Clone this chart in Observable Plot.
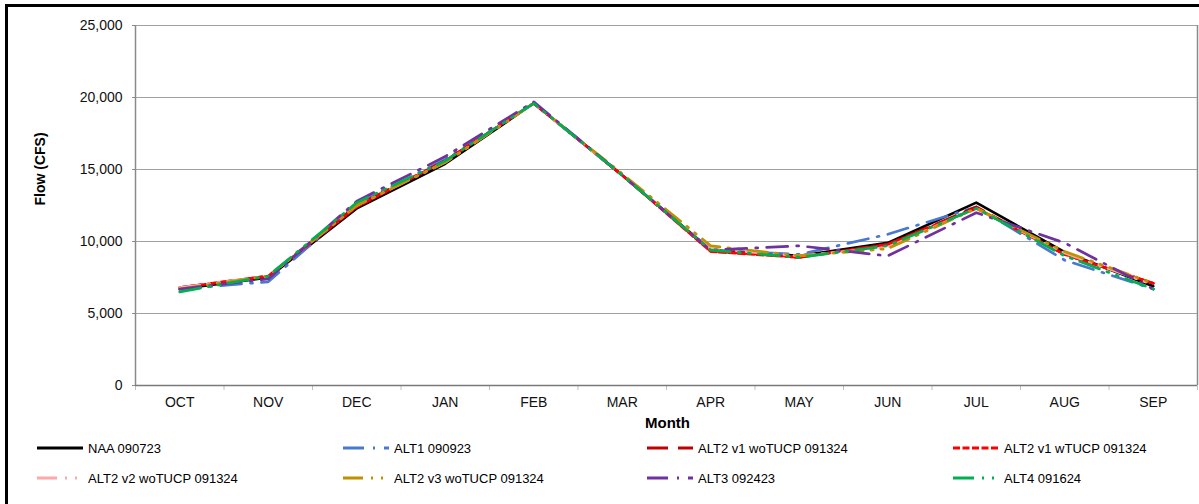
<!DOCTYPE html>
<html><head><meta charset="utf-8">
<script src="https://cdn.jsdelivr.net/npm/d3@7"></script>
<script src="https://cdn.jsdelivr.net/npm/@observablehq/plot@0.6"></script>
<style>
html,body{margin:0;padding:0;background:#fff;overflow:hidden;}
#wrap{position:relative;width:1199px;height:504px;font-family:"Liberation Sans",Arial,sans-serif;}
#frame{position:absolute;left:5px;top:4px;width:1220px;height:530px;border:3px solid #000;box-sizing:border-box;pointer-events:none;}
#chart{position:absolute;left:0;top:0;}
#legend{position:absolute;left:0;top:0;width:1199px;height:504px;}
.item{position:absolute;height:16px;display:flex;align-items:center;font-size:13px;color:#000;white-space:nowrap;}
.item svg{margin-right:5px;}
</style></head><body>
<div id="wrap"><div id="chart"></div><div id="legend"></div><div id="frame"></div></div>
<script>
// ---- data ----
const months = ["OCT","NOV","DEC","JAN","FEB","MAR","APR","MAY","JUN","JUL","AUG","SEP"];
const yTicks = [0, 5000, 10000, 15000, 20000, 25000];
const seriesNames = ["NAA 090723","ALT1 090923","ALT2 v1 woTUCP 091324","ALT2 v1 wTUCP 091324",
                     "ALT2 v2 woTUCP 091324","ALT2 v3 woTUCP 091324","ALT3 092423","ALT4 091624"];
const naa      = [6700, 7500, 12300, 15400, 19600, 14600, 9400, 9000, 9900, 12700, 9250, 6900];
const alt1     = [6700, 7200, 12600, 15700, 19600, 14600, 9400, 9100, 10500, 12400, 8700, 6700];
const alt2v1wo = [6800, 7600, 12500, 15600, 19600, 14600, 9400, 8900, 9800, 12400, 9100, 7100];
const alt2v1w  = [6800, 7600, 12400, 15600, 19600, 14600, 9300, 8900, 9800, 12300, 9100, 7100];
const alt2v2wo = [6800, 7600, 12500, 15500, 19600, 14600, 9500, 9000, 9600, 12300, 9200, 7000];
const alt2v3wo = [6700, 7600, 12500, 15500, 19600, 14700, 9700, 9000, 9500, 12300, 9300, 7100];
const alt3     = [6700, 7400, 12800, 15900, 19700, 14600, 9400, 9700, 9000, 12000, 9900, 6700];
const alt4     = [6500, 7600, 12700, 15600, 19600, 14600, 9400, 8900, 9700, 12300, 9000, 6700];
const seriesValues = [naa, alt1, alt2v1wo, alt2v1w, alt2v2wo, alt2v3wo, alt3, alt4];

// ---- styles ----
const colors = ["#000000","#4878CF","#C00000","#FF0000","#FFA8A8","#BF9000","#7030A0","#00B050"];
const dashes = [null,"21 9 2 9","21 10","7 2.5","20 8 2 8 2 8","20 8 2 8 2 8","21 9 2 9","21 8 2 8 2 8"];

const rows = seriesNames.map((name, s) =>
  months.map((m, i) => ({series: name, month: m, value: seriesValues[s][i]})));
const mi = d => months.indexOf(d.month);

const plot = Plot.plot({
  width: 1199, height: 440,
  marginLeft: 135, marginRight: 2, marginTop: 25, marginBottom: 55,
  style: {fontFamily: '"Liberation Sans", Arial, sans-serif', fontSize: "14px", color: "#111", background: "transparent"},
  x: {domain: [-0.5, 11.5]},
  y: {domain: [0, 25000]},
  marks: [
    Plot.gridY(yTicks, {stroke: "#a0a0a0", strokeOpacity: 1}),
    Plot.ruleX([-0.5], {stroke: "#8a8a8a", strokeWidth: 1.5}),
    Plot.ruleX([11.5], {stroke: "#8a8a8a", strokeWidth: 1.5}),
    Plot.axisY(yTicks, {tickSize: 3, tickPadding: 10, tickFormat: d3.format(","), label: null, stroke: "#8a8a8a"}),
    Plot.axisX(d3.range(13).map(i => i - 0.5), {tickSize: 5, tickFormat: () => "", label: null, stroke: "#c0c0c0"}),
    Plot.axisX(d3.range(12), {tickSize: 0, tickPadding: 12, tickFormat: i => months[i], label: null}),
    Plot.ruleY([0], {stroke: "#7a7a7a", strokeWidth: 1.5}),
    ...rows.map((r, s) => Plot.line(r, {
      x: mi, y: "value", stroke: colors[s], strokeWidth: 2.7,
      strokeDasharray: dashes[s] || undefined
    })),
    Plot.text(["Flow (CFS)"], {frameAnchor: "left", dx: -95, rotate: -90, fontWeight: "bold", fontSize: 14, fill: "#000"}),
    Plot.text(["Month"], {frameAnchor: "bottom", dy: 42, dx: 1, fontWeight: "bold", fontSize: 15, fill: "#000"})
  ]
});
document.getElementById("chart").appendChild(plot);

// ---- legend ----
const colX = [37, 343, 647, 953];
const rowY = [448, 478];
const legend = document.getElementById("legend");
seriesNames.forEach((name, s) => {
  const item = document.createElement("div");
  item.className = "item";
  item.style.left = colX[s % 4] + "px";
  item.style.top = (rowY[Math.floor(s / 4)] - 8) + "px";
  const ns = "http://www.w3.org/2000/svg";
  const sw = document.createElementNS(ns, "svg");
  sw.setAttribute("width", 46); sw.setAttribute("height", 8);
  const ln = document.createElementNS(ns, "line");
  ln.setAttribute("x1", 0); ln.setAttribute("x2", 46);
  ln.setAttribute("y1", 4); ln.setAttribute("y2", 4);
  ln.setAttribute("stroke", colors[s]); ln.setAttribute("stroke-width", 3);
  if (dashes[s]) ln.setAttribute("stroke-dasharray", dashes[s]);
  sw.appendChild(ln);
  item.appendChild(sw);
  const t = document.createElement("span");
  t.textContent = name;
  item.appendChild(t);
  legend.appendChild(item);
});
</script>
</body></html>
